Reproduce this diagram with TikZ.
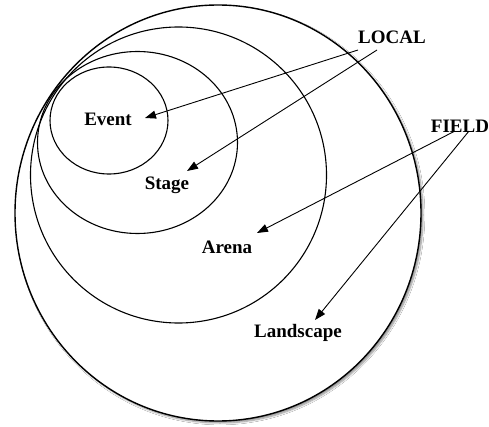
\documentclass[tikz,border=0pt]{standalone}
\usepackage{fontspec}
\setmainfont{Liberation Serif}
\usetikzlibrary{arrows.meta,shadows.blur}
\begin{document}
\begin{tikzpicture}[x=1pt,y=-1pt,
  ring/.style={draw=black,line width=1.1pt},
  lbl/.style={font=\fontsize{19}{19}\selectfont\bfseries,inner sep=0pt},
  pointer/.style={draw=black,line width=0.9pt,-{Triangle[length=11pt,width=8pt]}}]
\useasboundingbox (0,0) rectangle (489,427);
\fill[white] (0,0) rectangle (489,427);
\path[ring,fill=white,line width=1.4pt,blur shadow={shadow xshift=2pt,shadow yshift=-2pt,shadow blur steps=6,shadow opacity=45}]
  (218,213) ellipse [x radius=203,y radius=208];
\path[ring] (178.5,175) ellipse [x radius=148,y radius=148];
\path[ring] (137.5,142.5) ellipse [x radius=100,y radius=91];
\path[ring] (109,120.5) ellipse [x radius=59,y radius=53.5];
\node[lbl] (event) at (108,119) {Event};
\node[lbl] (stage) at (167,185) {Stage};
\node[lbl] (arena) at (227,247) {Arena};
\node[lbl] (landscape) at (298,333) {Landscape};
\node[lbl] (local) at (392,37) {LOCAL};
\node[lbl] (field) at (460,126) {FIELD};
\coordinate (l1) at (358,50);
\coordinate (l2) at (377,50);
\coordinate (f1) at (455,131);
\coordinate (f2) at (469,131);
\coordinate (eEvent) at (145,118);
\coordinate (eStage) at (187,171);
\coordinate (eArena) at (257,233);
\coordinate (eLand) at (315,320);
\draw[pointer] (l1) -- (eEvent);
\draw[pointer] (l2) -- (eStage);
\draw[pointer] (f1) -- (eArena);
\draw[pointer] (f2) -- (eLand);
\end{tikzpicture}
\end{document}
